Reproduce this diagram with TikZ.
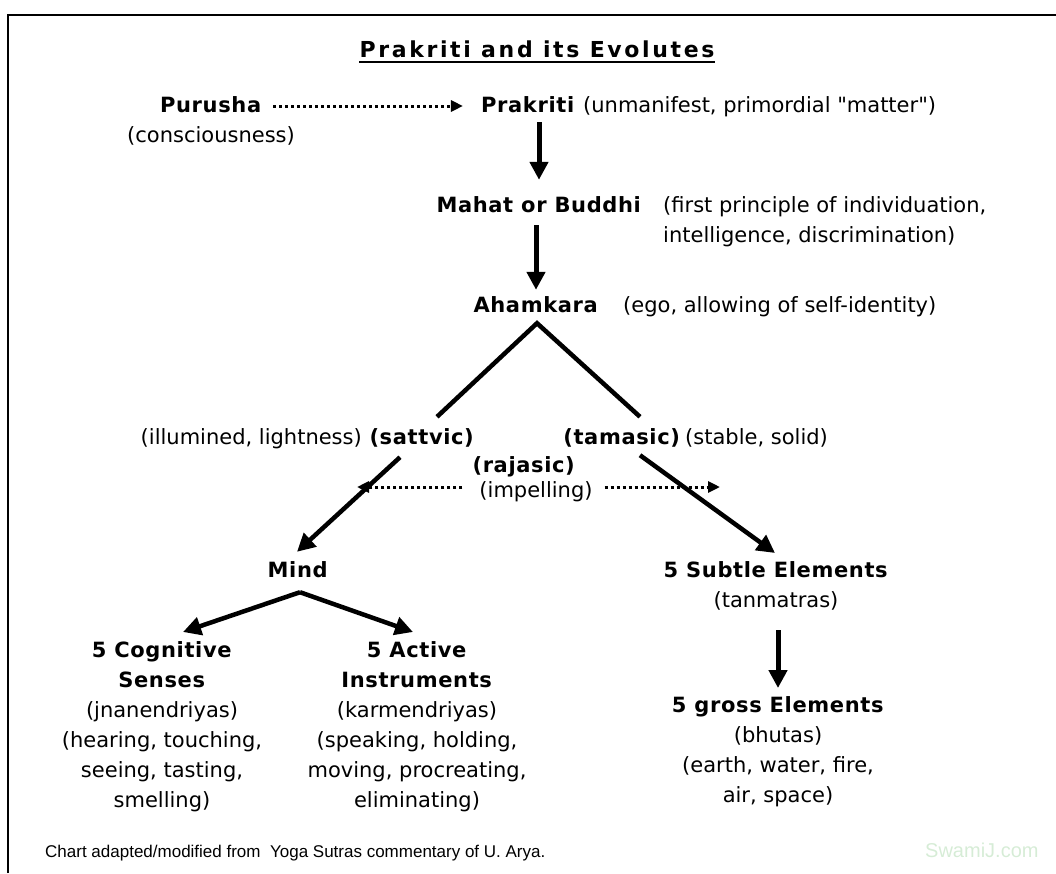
\documentclass[tikz,border=0pt]{standalone}
\usepackage{fontspec}
\setmainfont[Ligatures=TeXOff, BoldFeatures={LetterSpace=3}]{DejaVu Sans}
\newfontfamily\titlefont[LetterSpace=12]{DejaVu Sans}
\newfontfamily\footfont{Liberation Sans}
\usetikzlibrary{arrows.meta, positioning, calc}
\definecolor{watermark}{RGB}{214,236,214}

\tikzset{
  txt/.style={inner sep=0pt, text height=16pt, text depth=4pt, font=\fontsize{21}{30}\selectfont},
  block/.style={inner sep=0pt, align=center, anchor=north, font=\fontsize{21}{30}\selectfont},
  flow/.style={line width=5pt, -{Triangle[length=18pt,width=18pt]}},
  branch/.style={line width=4.5pt, line join=miter},
  dotarrow/.style={line width=3pt, dash pattern=on 3pt off 3pt, -{Triangle[length=12pt,width=11pt]}},
}

\begin{document}
\begin{tikzpicture}[x=1pt, y=-1pt]
  \useasboundingbox (0,0) rectangle (1056,873);
  \draw[line width=2pt] (8,873) -- (8,15) -- (1056,15);
  % Title
  \node[anchor=base, inner sep=0pt, font=\titlefont\bfseries\fontsize{22}{26}\selectfont] (title) at (537,57) {Prakriti and its Evolutes};
  \draw[line width=2.5pt] ($(title.base west)+(0,5)$) -- ($(title.base east)+(0,5)$);
  % Purusha and Prakriti
  \node[txt, anchor=base] (purusha) at (211,112) {\textbf{Purusha}};
  \node[txt, anchor=base] (conscious) at (211,142) {(consciousness)};
  \node[txt, anchor=base] (prakriti) at (528,112) {\textbf{Prakriti}};
  \node[txt, anchor=base west] (prakritinote) at (583,112) {(unmanifest, primordial "matter")};
  \draw[dotarrow, shorten <=11pt, shorten >=18pt] (purusha.east) -- (prakriti.west);
  % Mahat and Ahamkara
  \node[txt, anchor=base] (mahat) at (539,212) {\textbf{Mahat or Buddhi}};
  \node[block, align=left, anchor=north west] (mahatnote) at (663,196) {(first principle of individuation,\\intelligence, discrimination)};
  \node[txt, anchor=base] (ahamkara) at (536,312) {\textbf{Ahamkara}};
  \node[txt, anchor=base west] (ahamnote) at (623,312) {(ego, allowing of self-identity)};
  \draw[flow, shorten <=6pt, shorten >=16pt] (mahat.north |- prakriti.south) -- (mahat.north);
  \draw[flow, shorten <=9pt, shorten >=6pt] (ahamkara.north |- mahat.south) -- (ahamkara.north);
  % Three gunas
  \node[txt, anchor=base] (sattvic) at (422,444) {\textbf{(sattvic)}};
  \node[txt, anchor=base east] (sattvicnote) at (362,444) {(illumined, lightness)};
  \node[txt, anchor=base] (tamasic) at (622,444) {\textbf{(tamasic)}};
  \node[txt, anchor=base west] (tamasicnote) at (685,444) {(stable, solid)};
  \node[txt, anchor=base] (rajasic) at (524,472) {\textbf{(rajasic)}};
  \node[txt, anchor=base] (impel) at (536,497) {(impelling)};
  \coordinate (split) at ($(ahamkara.south)+(1,7)$);
  \draw[branch] ($(sattvic.north)+(15,-11)$) -- (split) -- ($(tamasic.north)+(18,-11)$);
  \coordinate (rajleft) at (357,487);
  \coordinate (rajright) at (720,487);
  \draw[dotarrow] ($(impel.west)+(-17,-4)$) -- (rajleft);
  \draw[dotarrow] ($(impel.east)+(12,-4)$) -- (rajright);
  % Mind and subtle elements
  \node[txt, anchor=base] (mind) at (298,577) {\textbf{Mind}};
  \node[block] (subtle) at (776,561) {\textbf{5 Subtle Elements}\\(tanmatras)};
  \draw[flow, line width=4.5pt] ($(sattvic.south)+(-22,9)$) -- ($(mind.north)+(-1,-9)$);
  \draw[flow, line width=4.5pt] ($(tamasic.south)+(18,7)$) -- ($(subtle.north)+(-1,-8)$);
  % Senses and instruments
  \node[block] (cognitive) at (162,641) {\textbf{5 Cognitive}\\\textbf{Senses}\\(jnanendriyas)\\(hearing, touching,\\seeing, tasting,\\smelling)};
  \node[block] (active) at (417,641) {\textbf{5 Active}\\\textbf{Instruments}\\(karmendriyas)\\(speaking, holding,\\moving, procreating,\\eliminating)};
  \coordinate (fork) at ($(mind.south)+(2,11)$);
  \draw[flow, line width=4.5pt] (fork) -- ($(cognitive.north)+(21,-9)$);
  \draw[flow, line width=4.5pt] (fork) -- ($(active.north)+(-4,-9)$);
  % Gross elements
  \node[block] (gross) at (778,696) {\textbf{5 gross Elements}\\(bhutas)\\(earth, water, fire,\\air, space)};
  \draw[flow, shorten <=20pt, shorten >=8pt] (gross.north |- subtle.south) -- (gross.north);
  % Footer
  \node[anchor=base west, inner sep=0pt, font=\footfont\fontsize{17}{20}\selectfont] (source) at (45,857) {Chart adapted/modified from\ \ Yoga Sutras commentary of U. Arya.};
  \node[anchor=base west, inner sep=0pt, text=watermark, font=\footfont\fontsize{20}{24}\selectfont] (site) at (925,857) {SwamiJ.com};
\end{tikzpicture}
\end{document}
